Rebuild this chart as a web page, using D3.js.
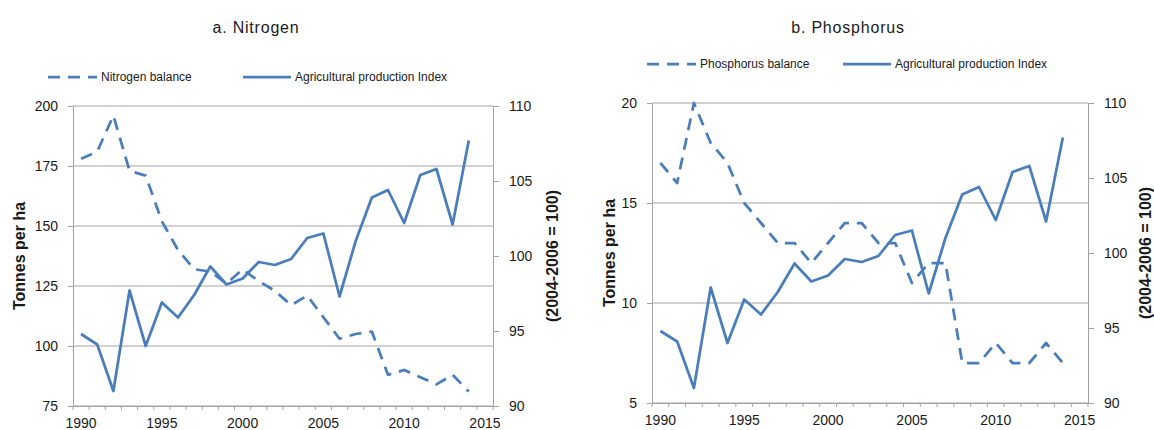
<!DOCTYPE html>
<html>
<head>
<meta charset="utf-8">
<script src="https://cdn.jsdelivr.net/npm/d3@7"></script>
<style>
  html, body { margin: 0; padding: 0; background: #fff; }
  svg { display: block; font-family: "Liberation Sans", Arial, sans-serif; }
</style>
</head>
<body>
<svg id="chart" width="1154" height="430"></svg>
<script>
// Year categories on the x axis (2015 is an empty category at the end)
const years = [1990, 1991, 1992, 1993, 1994, 1995, 1996, 1997, 1998, 1999,
  2000, 2001, 2002, 2003, 2004, 2005, 2006, 2007, 2008, 2009,
  2010, 2011, 2012, 2013, 2014, 2015];
const labelYears = [1990, 1995, 2000, 2005, 2010, 2015];

// Nitrogen balance, tonnes per ha (1990-2014)
const nitrogenBalance = [178, 181, 196, 173, 171, 152, 140, 132, 131, 126,
  132, 127, 123, 117, 121, 112, 103, 105, 106, 88,
  90, 87, 84, 88, 81];

// Phosphorus balance, tonnes per ha (1990-2014)
const phosphorusBalance = [17, 16, 20, 18, 17, 15, 14, 13, 13, 12,
  13, 14, 14, 13, 13, 11, 12, 12, 7, 7,
  8, 7, 7, 8, 7];

// Agricultural production index, 2004-2006 = 100 (1990-2014)
const productionIndex = [94.8, 94.1, 91.0, 97.7, 94.0, 96.9, 95.9, 97.4, 99.3, 98.1,
  98.5, 99.6, 99.4, 99.8, 101.2, 101.5, 97.3, 101.0, 103.9, 104.4,
  102.2, 105.4, 105.8, 102.1, 107.7];

// Axis tick values
const nitrogenTicks = [75, 100, 125, 150, 175, 200];
const phosphorusTicks = [5, 10, 15, 20];
const indexTicks = [90, 95, 100, 105, 110];

const BLUE = "#4a7ebb";
const GRID = "#a3a3a3";
const TEXT = "#1a1a1a";

const panels = [
  {
    title: "a. Nitrogen", titleX: 256, titleY: 33,
    legendY: 77, legendDash: 48, legendSolid: 243,
    balanceLabel: "Nitrogen balance", balance: nitrogenBalance, leftTicks: nitrogenTicks,
    left: 73, right: 493, top: 106, bottom: 406,
    leftTitleX: 19, rightTitleX: 552
  },
  {
    title: "b. Phosphorus", titleX: 848, titleY: 33,
    legendY: 64, legendDash: 647, legendSolid: 843,
    balanceLabel: "Phosphorus balance", balance: phosphorusBalance, leftTicks: phosphorusTicks,
    left: 652, right: 1088, top: 103, bottom: 403,
    leftTitleX: 609, rightTitleX: 1145
  }
];

const svg = d3.select("#chart");

panels.forEach(p => {
  const g = svg.append("g");

  const x = d3.scaleBand().domain(years).range([p.left, p.right]).padding(0);
  const cx = yr => x(yr) + x.bandwidth() / 2;
  const yL = d3.scaleLinear()
    .domain([p.leftTicks[0], p.leftTicks[p.leftTicks.length - 1]])
    .range([p.bottom, p.top]);
  const yR = d3.scaleLinear()
    .domain([indexTicks[0], indexTicks[indexTicks.length - 1]])
    .range([p.bottom, p.top]);

  // horizontal gridlines at the left-axis ticks
  g.append("g").selectAll("line").data(p.leftTicks).join("line")
    .attr("x1", p.left).attr("x2", p.right)
    .attr("y1", d => yL(d)).attr("y2", d => yL(d))
    .attr("stroke", GRID).attr("stroke-width", 1);

  // left axis
  const axL = g.append("g").attr("transform", `translate(${p.left},0)`)
    .call(d3.axisLeft(yL).tickValues(p.leftTicks).tickSize(5).tickSizeOuter(0).tickPadding(10));
  // right axis
  const axR = g.append("g").attr("transform", `translate(${p.right},0)`)
    .call(d3.axisRight(yR).tickValues(indexTicks).tickSize(6).tickSizeOuter(0).tickPadding(10));
  // bottom axis labels at category centres
  const axB = g.append("g").attr("transform", `translate(0,${p.bottom})`)
    .call(d3.axisBottom(x).tickValues(labelYears).tickSize(0).tickSizeOuter(0).tickPadding(12));

  [axL, axR, axB].forEach(ax => {
    ax.select(".domain").attr("stroke", GRID).attr("stroke-width", 1);
    ax.selectAll(".tick line").attr("stroke", GRID);
    ax.selectAll(".tick text")
      .attr("fill", TEXT)
      .style("font-size", "14px")
      .style("font-family", "'Liberation Sans', Arial, sans-serif");
  });

  // bottom tick marks at category boundaries
  const bounds = years.map(yr => x(yr)).concat([p.right]);
  g.append("g").selectAll("line").data(bounds).join("line")
    .attr("x1", d => d).attr("x2", d => d)
    .attr("y1", p.bottom).attr("y2", p.bottom + 4)
    .attr("stroke", GRID).attr("stroke-width", 1);

  // balance line (dashed, left axis)
  const balLine = d3.line()
    .x((d, i) => cx(years[i]))
    .y(d => yL(d));
  g.append("path").datum(p.balance)
    .attr("d", balLine)
    .attr("fill", "none").attr("stroke", BLUE).attr("stroke-width", 2.75)
    .attr("stroke-dasharray", "12,8").attr("stroke-linejoin", "round");

  // production index line (solid, right axis)
  const idxLine = d3.line()
    .x((d, i) => cx(years[i]))
    .y(d => yR(d));
  g.append("path").datum(productionIndex)
    .attr("d", idxLine)
    .attr("fill", "none").attr("stroke", BLUE).attr("stroke-width", 2.75)
    .attr("stroke-linejoin", "round");

  // title
  g.append("text")
    .attr("x", p.titleX).attr("y", p.titleY)
    .attr("text-anchor", "middle")
    .attr("fill", TEXT)
    .style("font-size", "16px").style("letter-spacing", "0.8px")
    .text(p.title);

  // legend
  const lg = g.append("g").attr("transform", `translate(0,${p.legendY})`);
  lg.append("line")
    .attr("x1", p.legendDash).attr("x2", p.legendDash + 49)
    .attr("stroke", BLUE).attr("stroke-width", 2.75).attr("stroke-dasharray", "12,8");
  lg.append("text")
    .attr("x", p.legendDash + 53).attr("dy", "0.35em")
    .attr("fill", TEXT).style("font-size", "12px")
    .text(p.balanceLabel);
  lg.append("line")
    .attr("x1", p.legendSolid).attr("x2", p.legendSolid + 48)
    .attr("stroke", BLUE).attr("stroke-width", 2.75);
  lg.append("text")
    .attr("x", p.legendSolid + 52).attr("dy", "0.35em")
    .attr("fill", TEXT).style("font-size", "12px")
    .text("Agricultural production Index");

  // axis titles
  const midY = (p.top + p.bottom) / 2;
  g.append("text")
    .attr("transform", `translate(${p.leftTitleX},${midY}) rotate(-90)`)
    .attr("text-anchor", "middle").attr("dy", "0.35em")
    .attr("fill", TEXT).style("font-size", "16px").style("font-weight", "bold")
    .text("Tonnes per ha");
  g.append("text")
    .attr("transform", `translate(${p.rightTitleX},${midY}) rotate(-90)`)
    .attr("text-anchor", "middle").attr("dy", "0.35em")
    .attr("fill", TEXT).style("font-size", "16px").style("font-weight", "bold")
    .text("(2004-2006 = 100)");
});
</script>
</body>
</html>
